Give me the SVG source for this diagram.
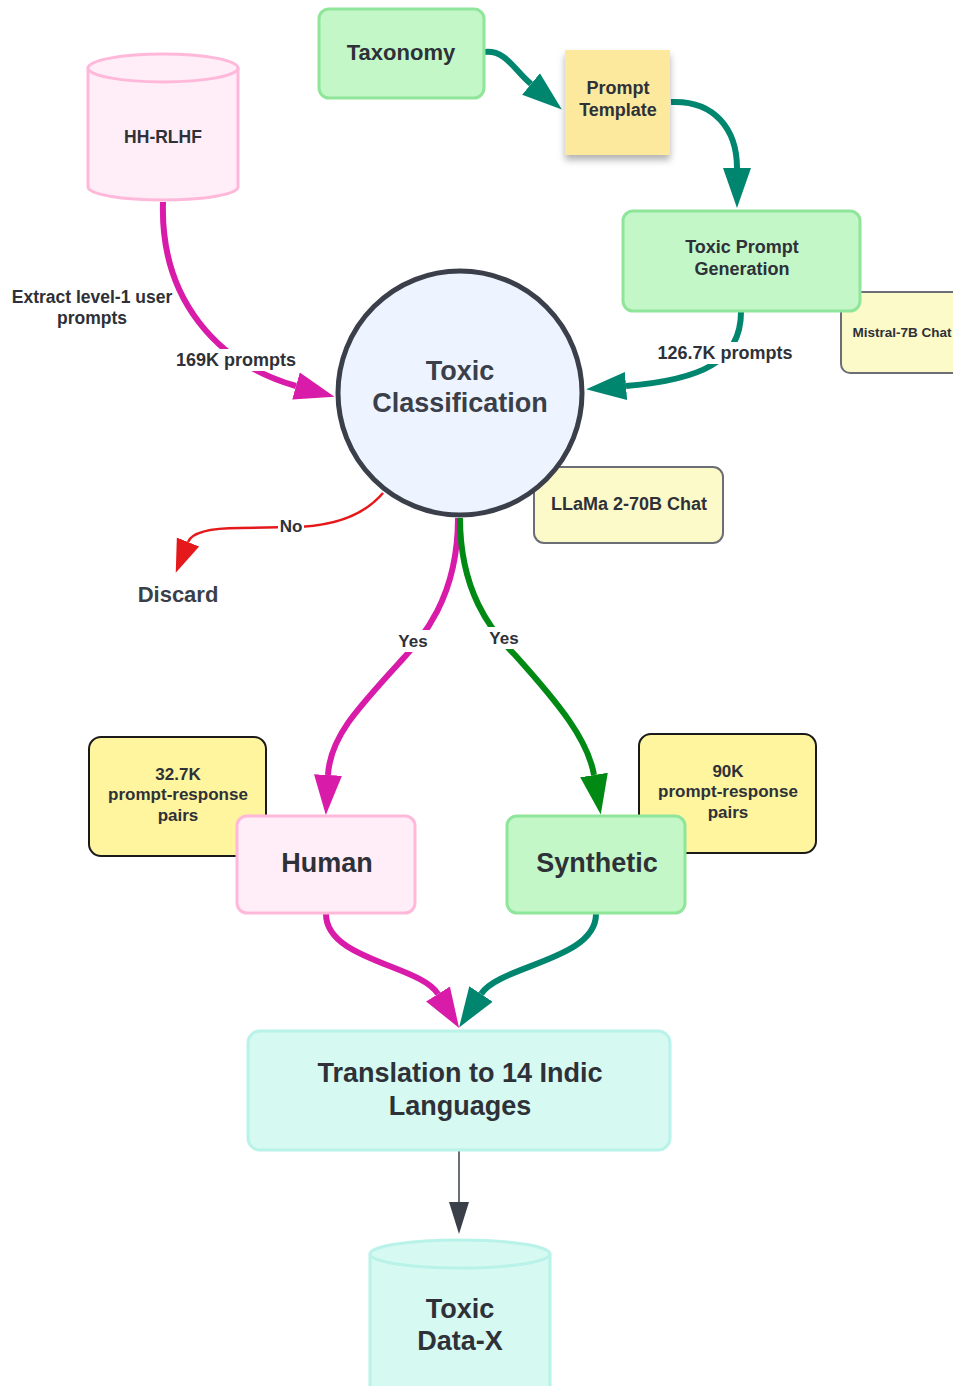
<svg xmlns="http://www.w3.org/2000/svg" width="953" height="1386" viewBox="0 0 953 1386">
  <style>
    text { font-family: "Liberation Sans", Arial, sans-serif; font-weight: bold; fill: #2e3138; text-anchor: middle; }
    .grey { fill: #3a3f4a; }
    .green { fill: #c3f7c8; stroke: #8fe59a; stroke-width: 3; }
    .pink { fill: #ffeef8; stroke: #ffb8d9; stroke-width: 3; }
    .cyan { fill: #d6f9f2; stroke: #b8f2e8; stroke-width: 3; }
    .note { fill: #fcfac8; stroke: #6b6e75; stroke-width: 2; }
    .count { fill: #fff59f; stroke: #1a1a1a; stroke-width: 2; }
    .edge { fill: none; stroke-width: 6; }
    .lbl-bg { fill: #ffffff; }
  </style>
  <defs>
    <marker id="ah-magenta" markerUnits="userSpaceOnUse" orient="auto" markerWidth="44" markerHeight="32" refX="0" refY="15" viewBox="0 -1 44 32">
      <path d="M0,1 L40,15 L0,29 z" fill="#d81ba8"/>
    </marker>
    <marker id="ah-teal" markerUnits="userSpaceOnUse" orient="auto" markerWidth="44" markerHeight="32" refX="0" refY="15" viewBox="0 -1 44 32">
      <path d="M0,1 L40,15 L0,29 z" fill="#00856f"/>
    </marker>
    <marker id="ah-green" markerUnits="userSpaceOnUse" orient="auto" markerWidth="44" markerHeight="32" refX="0" refY="15" viewBox="0 -1 44 32">
      <path d="M0,1 L40,15 L0,29 z" fill="#008a14"/>
    </marker>
    <marker id="ah-red" markerUnits="userSpaceOnUse" orient="auto" markerWidth="36" markerHeight="26" refX="0" refY="12" viewBox="0 -1 36 26">
      <path d="M0,0 L33,12 L0,24 z" fill="#e5191b"/>
    </marker>
    <marker id="ah-dark" markerUnits="userSpaceOnUse" orient="auto" markerWidth="36" markerHeight="24" refX="0" refY="10" viewBox="0 -1 36 24">
      <path d="M0,0 L32,10 L0,20 z" fill="#3a3f4a"/>
    </marker>
    <filter id="sticky-shadow" x="-20%" y="-20%" width="140%" height="150%">
      <feDropShadow dx="0" dy="5" stdDeviation="3.5" flood-color="#000" flood-opacity="0.3"/>
    </filter>
  </defs>

  <!-- side notes drawn first so boxes overlap them -->
  <g id="note-mistral">
    <rect x="841" y="292" width="130" height="81" rx="9" class="note"/>
    <text x="902" y="337" font-size="13.5">Mistral-7B Chat</text>
  </g>
  <g id="note-llama">
    <rect x="534" y="467" width="189" height="76" rx="10" class="note"/>
    <text x="629" y="510" font-size="18">LLaMa 2-70B Chat</text>
  </g>
  <g id="count-human">
    <rect x="89" y="737" width="177" height="119" rx="12" class="count"/>
    <text x="178" y="780" font-size="17">32.7K</text>
    <text x="178" y="800" font-size="17">prompt-response</text>
    <text x="178" y="821" font-size="17">pairs</text>
  </g>
  <g id="count-synthetic">
    <rect x="639" y="734" width="177" height="119" rx="12" class="count"/>
    <text x="728" y="777" font-size="17">90K</text>
    <text x="728" y="797" font-size="17">prompt-response</text>
    <text x="728" y="818" font-size="17">pairs</text>
  </g>

  <!-- connectors -->
  <g id="connectors">
    <path class="edge" stroke="#d81ba8" d="M163,202 C160,300 218,364 296,386" marker-end="url(#ah-magenta)"/>
    <path class="edge" stroke="#00856f" d="M485,52 C506,50 514,70 531,84" marker-end="url(#ah-teal)"/>
    <path class="edge" stroke="#00856f" d="M671,102 C715,100 737,130 737,168" marker-end="url(#ah-teal)"/>
    <path class="edge" stroke="#00856f" d="M741,312 C741,362 700,380 626,386" marker-end="url(#ah-teal)"/>
    <path fill="none" stroke="#e5191b" stroke-width="2.5" d="M383,493 C360,520 322,527 290,527 L240,528 C210,528 192,532 188,542" marker-end="url(#ah-red)"/>
    <path class="edge" stroke="#d81ba8" d="M458,518 C458,600 420,640 400,662 C356,710 330,738 328,775" marker-end="url(#ah-magenta)"/>
    <path class="edge" stroke="#008a14" d="M460,518 C460,590 490,630 515,655 C560,705 588,740 594,775" marker-end="url(#ah-green)"/>
    <path class="edge" stroke="#d81ba8" d="M326,914 C326,960 420,965 438,994" marker-end="url(#ah-magenta)"/>
    <path class="edge" stroke="#00856f" d="M596,914 C596,960 500,965 481,994" marker-end="url(#ah-teal)"/>
    <path fill="none" stroke="#3a3f4a" stroke-width="1.5" d="M459,1151 L459,1202" marker-end="url(#ah-dark)"/>

    <!-- connector labels -->
    <rect class="lbl-bg" x="174" y="349" width="124" height="22"/>
    <text x="236" y="366" font-size="18">169K prompts</text>
    <text x="92" y="303" font-size="17.5">Extract level-1 user</text>
    <text x="92" y="324" font-size="17.5">prompts</text>
    <rect class="lbl-bg" x="655" y="342" width="140" height="22"/>
    <text x="725" y="359" font-size="18">126.7K prompts</text>
    <rect class="lbl-bg" x="278" y="516" width="26" height="20"/>
    <text x="291" y="532" font-size="17">No</text>
    <rect class="lbl-bg" x="396" y="630" width="34" height="22"/>
    <text x="413" y="647" font-size="17">Yes</text>
    <rect class="lbl-bg" x="487" y="627" width="34" height="22"/>
    <text x="504" y="644" font-size="17">Yes</text>
  </g>

  <g id="taxonomy">
    <rect x="319" y="9" width="165" height="89" rx="10" class="green"/>
    <text x="401" y="60" font-size="22">Taxonomy</text>
  </g>

  <g id="prompt-template">
    <rect x="565" y="50" width="105" height="105" fill="#fde99e" filter="url(#sticky-shadow)"/>
    <text x="618" y="94" font-size="18">Prompt</text>
    <text x="618" y="116" font-size="18">Template</text>
  </g>

  <g id="toxic-prompt-generation">
    <rect x="623" y="211" width="237" height="100" rx="10" class="green"/>
    <text x="742" y="253" font-size="18">Toxic Prompt</text>
    <text x="742" y="275" font-size="18">Generation</text>
  </g>

  <g id="hh-rlhf">
    <path class="pink" d="M88,68 L88,187 A75,13 0 0 0 238,187 L238,68"/>
    <ellipse cx="163" cy="68" rx="75" ry="14" class="pink"/>
    <text x="163" y="143" font-size="17.5">HH-RLHF</text>
  </g>

  <g id="toxic-classification">
    <circle cx="460" cy="393" r="122" fill="#eef4ff" stroke="#3a3f4a" stroke-width="5"/>
    <text x="460" y="380" font-size="27" class="grey">Toxic</text>
    <text x="460" y="412" font-size="27" class="grey">Classification</text>
  </g>

  <g id="discard">
    <text x="178" y="602" font-size="22" class="grey">Discard</text>
  </g>

  <g id="human">
    <rect x="237" y="816" width="178" height="97" rx="10" class="pink"/>
    <text x="327" y="872" font-size="27">Human</text>
  </g>

  <g id="synthetic">
    <rect x="507" y="816" width="178" height="97" rx="10" class="green"/>
    <text x="597" y="872" font-size="27">Synthetic</text>
  </g>

  <g id="translation">
    <rect x="248" y="1031" width="422" height="119" rx="12" class="cyan"/>
    <text x="460" y="1082" font-size="27">Translation to 14 Indic</text>
    <text x="460" y="1115" font-size="27">Languages</text>
  </g>

  <g id="toxic-data-x">
    <path class="cyan" d="M370,1254 L370,1400 L550,1400 L550,1254"/>
    <ellipse cx="460" cy="1254" rx="90" ry="14" class="cyan"/>
    <text x="460" y="1318" font-size="27">Toxic</text>
    <text x="460" y="1350" font-size="27">Data-X</text>
  </g>
</svg>
